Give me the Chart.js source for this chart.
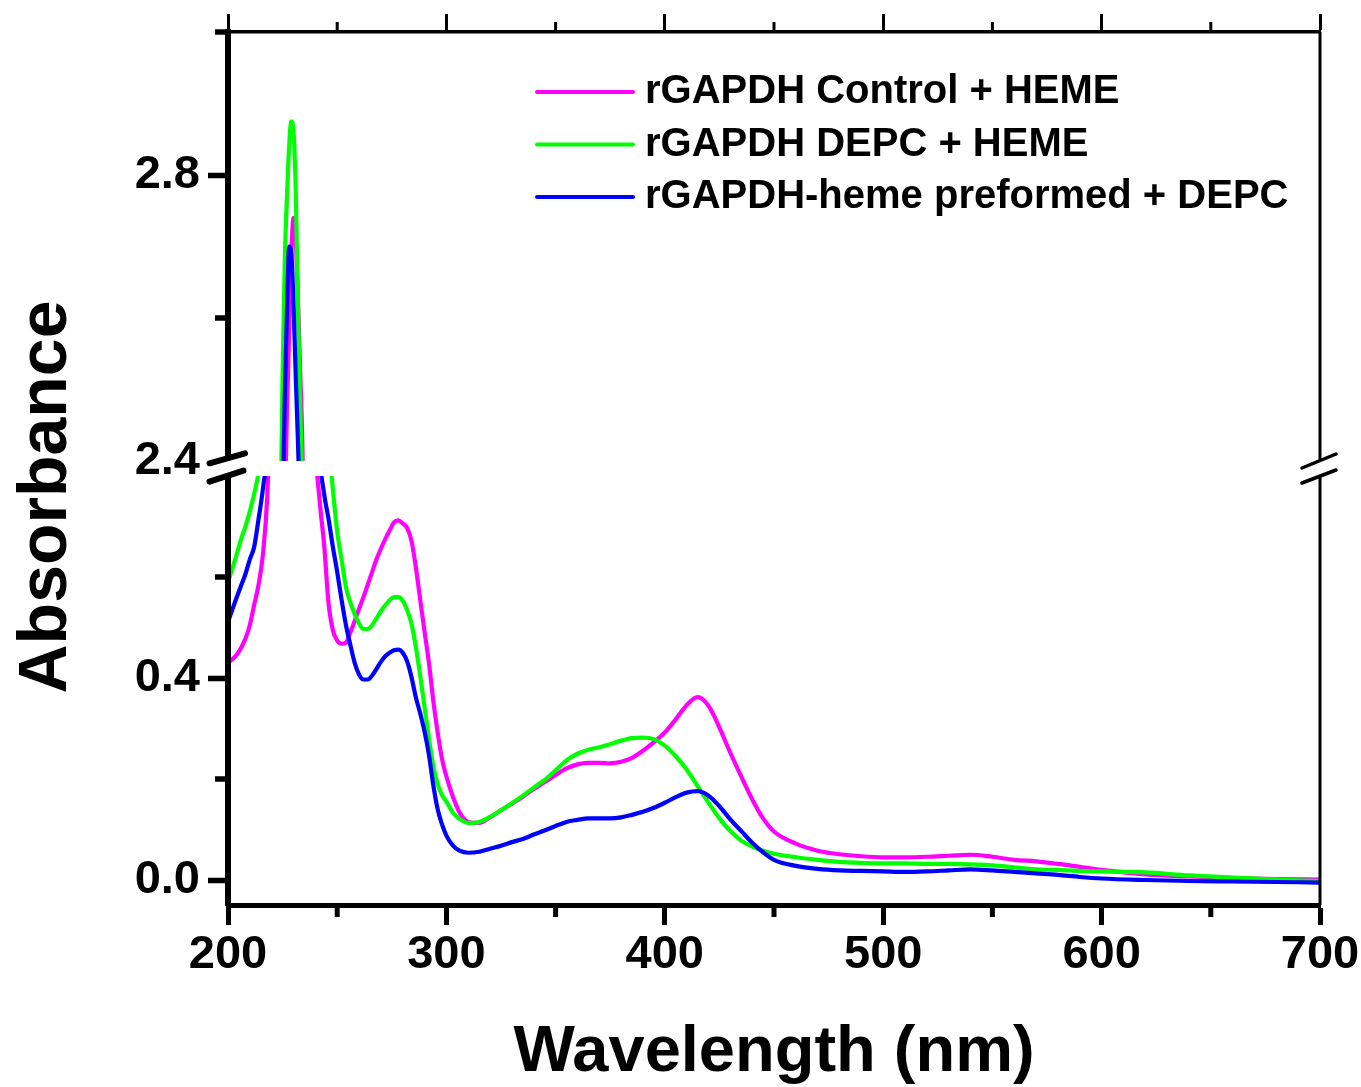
<!DOCTYPE html>
<html>
<head>
<meta charset="utf-8">
<script src="https://cdn.jsdelivr.net/npm/chart.js@4.4.1/dist/chart.umd.min.js"></script>
<style>
html,body{margin:0;padding:0;background:#ffffff;}
#wrap{width:1361px;height:1087px;position:relative;}
canvas{display:block;}
</style>
</head>
<body>
<div id="wrap"><canvas id="c" width="1361" height="1087"></canvas></div>
<script>
// ---------------- data ----------------
const wavelengths = [200,202,204,206,208,210,212,214,216,218,220,
  221,222,223,224,225,226,227,228,229,230,231,232,233,234,235,236,237,238,239,240,
  242,244,246,248,250,252,254,256,258,260,262,264,266,268,270,272,274,276,278,280,282,284,286,288,290,292,294,296,298,300,
  303,306,
  310,315,320,325,330,335,340,345,350,355,360,365,370,375,380,385,390,395,400,405,410,415,420,425,430,435,440,445,450,
  460,470,480,490,500,510,520,530,540,550,560,570,580,590,600,
  620,640,660,680,700];

const controlHeme = [0.430,0.437,0.446,0.460,0.478,0.505,0.545,0.585,0.645,0.760,1.000,
  1.15,1.35,1.60,1.90,2.15,2.33,2.47,2.58,2.69,2.74,2.71,2.63,2.53,2.43,2.25,2.00,1.70,1.38,1.10,0.88,
  0.750,0.665,0.550,0.495,0.474,0.468,0.470,0.490,0.513,0.537,0.560,0.585,0.610,0.635,0.656,0.675,0.692,0.708,0.712,0.706,0.697,0.672,0.620,0.555,0.492,0.430,0.355,0.292,0.240,0.205,
  0.165,0.134,
  0.115,0.113,0.124,0.138,0.151,0.165,0.180,0.194,0.208,0.221,0.229,0.232,0.232,0.231,0.234,0.242,0.256,0.273,0.292,0.318,0.346,0.362,0.345,0.302,0.252,0.205,0.160,0.122,0.096,
  0.072,0.058,0.051,0.047,0.045,0.045,0.046,0.048,0.050,0.046,0.040,0.037,0.032,0.026,0.020,
  0.011,0.007,0.004,0.002,0.001];

const depcHeme = [0.590,0.617,0.645,0.675,0.700,0.730,0.765,0.810,0.920,1.080,1.300,
  1.45,1.65,1.95,2.30,2.52,2.68,2.77,2.84,2.875,2.86,2.78,2.62,2.48,2.37,2.20,2.00,1.78,1.58,1.40,1.25,
  1.05,0.93,0.87,0.775,0.690,0.635,0.580,0.550,0.527,0.508,0.497,0.497,0.505,0.518,0.532,0.544,0.554,0.560,0.560,0.553,0.535,0.508,0.462,0.405,0.342,0.280,0.226,0.190,0.168,0.155,
  0.133,0.121,
  0.113,0.115,0.125,0.138,0.152,0.167,0.183,0.198,0.217,0.237,0.250,0.258,0.263,0.269,0.276,0.281,0.282,0.279,0.266,0.245,0.219,0.186,0.153,0.122,0.097,0.078,0.066,0.058,0.052,
  0.045,0.040,0.036,0.034,0.033,0.033,0.032,0.032,0.031,0.029,0.025,0.021,0.020,0.018,0.017,
  0.015,0.009,0.005,0.001,-0.002];

const preformedDepc = [0.511,0.536,0.560,0.583,0.606,0.635,0.660,0.715,0.775,0.860,1.100,
  1.30,1.50,1.78,2.10,2.33,2.49,2.61,2.70,2.69,2.62,2.52,2.43,2.32,2.15,1.95,1.75,1.55,1.35,1.18,1.05,
  0.840,0.765,0.716,0.660,0.610,0.555,0.505,0.466,0.430,0.407,0.397,0.397,0.405,0.418,0.432,0.443,0.450,0.455,0.456,0.450,0.433,0.402,0.362,0.330,0.294,0.248,0.188,0.140,0.110,0.088,
  0.068,0.058,
  0.054,0.056,0.062,0.068,0.075,0.081,0.090,0.098,0.107,0.115,0.119,0.122,0.122,0.122,0.124,0.129,0.135,0.143,0.153,0.164,0.173,0.176,0.167,0.146,0.120,0.097,0.074,0.055,0.040,
  0.028,0.022,0.019,0.018,0.017,0.016,0.017,0.019,0.021,0.019,0.016,0.013,0.010,0.006,0.003,
  0.000,-0.002,-0.003,-0.004,-0.005];

const seriesLabels = ['rGAPDH Control + HEME', 'rGAPDH DEPC + HEME', 'rGAPDH-heme preformed + DEPC'];
const seriesColors = ['#ff00ff', '#00ff00', '#0000ff'];

const xTicks = [200, 300, 400, 500, 600, 700];
const xMinorTicks = [250, 350, 450, 550, 650];
const yLowTicks = [0.0, 0.4];
const yLowMinorTicks = [0.2, 0.6];
const yHighTicks = [2.4, 2.8];
const yHighMinorTicks = [2.6, 3.0];
const xTitle = 'Wavelength (nm)';
const yTitle = 'Absorbance';

// axis ranges (broken y axis)
const LOW_MIN = -0.0495, LOW_MAX = 0.8297, LOW_CLIP = 0.8;
const HIGH_MIN = 2.4, HIGH_MAX = 3.0;

// ---------------- build ----------------
const FONT = '"Liberation Sans", Arial, Helvetica, sans-serif';
const seriesValues = [controlHeme, depcHeme, preformedDepc];
const drawOrder = [2, 1, 0]; // blue on top, magenta at bottom

function toPoints(vals) { return wavelengths.map((w, i) => ({ x: w, y: vals[i] })); }

const datasets = [];
seriesValues.forEach((vals, i) => {
  ['yLow', 'yHigh'].forEach(axisId => {
    datasets.push({
      label: seriesLabels[i],
      data: toPoints(vals),
      yAxisID: axisId,
      xAxisID: 'x',
      borderColor: seriesColors[i],
      backgroundColor: seriesColors[i],
      borderWidth: 4.2,
      pointRadius: 0,
      fill: false,
      cubicInterpolationMode: 'monotone',
      order: drawOrder[i]
    });
  });
});

const segmentClip = {
  id: 'segmentClip',
  beforeDatasetDraw(chart, args) {
    const ds = chart.data.datasets[args.index];
    const xs = chart.scales.x;
    let top, bottom;
    if (ds.yAxisID === 'yHigh') {
      const s = chart.scales.yHigh;
      top = s.top; bottom = s.getPixelForValue(HIGH_MIN);
    } else {
      const s = chart.scales.yLow;
      top = s.getPixelForValue(LOW_CLIP); bottom = s.bottom;
    }
    const ctx = chart.ctx;
    ctx.save();
    ctx.beginPath();
    ctx.rect(xs.left, top, xs.right - xs.left, bottom - top);
    ctx.clip();
  },
  afterDatasetDraw(chart) { chart.ctx.restore(); }
};

function line(ctx, x1, y1, x2, y2, w, cap) {
  ctx.lineWidth = w; ctx.lineCap = cap || 'butt';
  ctx.beginPath(); ctx.moveTo(x1, y1); ctx.lineTo(x2, y2); ctx.stroke();
}

const decorations = {
  id: 'decorations',
  afterDraw(chart) {
    const ctx = chart.ctx;
    const xs = chart.scales.x, yl = chart.scales.yLow, yh = chart.scales.yHigh;
    const L = chart.chartArea.left, R = chart.chartArea.right, T = chart.chartArea.top, B = chart.chartArea.bottom;
    ctx.save();
    ctx.strokeStyle = '#000';
    // right frame line
    line(ctx, R, T, R, B, 3);
    // minor ticks
    xMinorTicks.forEach(v => {
      const px = xs.getPixelForValue(v);
      line(ctx, px, B, px, B + 12, 5);
      line(ctx, px, T, px, T - 10, 3);
    });
    yLowMinorTicks.forEach(v => { const py = yl.getPixelForValue(v); line(ctx, L - 13, py, L, py, 5.5); });
    yHighMinorTicks.forEach(v => { const py = yh.getPixelForValue(v); line(ctx, L - 13, py, L, py, 5.5); });

    // axis breaks
    const yb = yh.getPixelForValue(HIGH_MIN);
    ctx.fillStyle = '#fff';
    ctx.fillRect(L - 5, yb - 2, 10, 16);
    ctx.fillRect(R - 4, yb, 8, 15);
    ctx.strokeStyle = '#000';
    line(ctx, L - 18.5, yb + 2.3, L + 17, yb - 7.7, 6, 'round');
    line(ctx, L - 18.5, yb + 20.7, L + 15.5, yb + 9.7, 6, 'round');
    line(ctx, R - 18, yb + 7, R + 16, yb - 7, 3.5, 'round');
    line(ctx, R - 18, yb + 22, R + 16, yb + 9, 3.5, 'round');

    // y title
    ctx.fillStyle = '#000';
    ctx.font = 'bold 68px ' + FONT;
    ctx.save();
    ctx.translate(66, 497);
    ctx.rotate(-Math.PI / 2);
    ctx.textAlign = 'center';
    ctx.textBaseline = 'alphabetic';
    ctx.fillText(yTitle, 0, 0);
    ctx.restore();

    // legend
    const rows = [92, 144.5, 197];
    ctx.font = 'bold 40px ' + FONT;
    ctx.textAlign = 'left';
    ctx.textBaseline = 'middle';
    seriesLabels.forEach((lab, i) => {
      ctx.strokeStyle = seriesColors[i];
      line(ctx, 537, rows[i], 633, rows[i], 4, 'round');
      ctx.fillStyle = '#000';
      ctx.fillText(lab, 645, rows[i]);
    });
    ctx.restore();
  }
};

const tickFont = { family: FONT, size: 47, weight: 'bold' };
const hideTickAt = v => (ctx) => (ctx.tick && Math.abs(ctx.tick.value - v) < 1e-9) ? 'rgba(0,0,0,0)' : '#000';
const noPad = s => { s.paddingTop = 0; s.paddingBottom = 0; };

new Chart(document.getElementById('c'), {
  type: 'line',
  data: { datasets },
  options: {
    responsive: false,
    animation: false,
    devicePixelRatio: 1,
    layout: { padding: { left: 0, top: 0, right: 41, bottom: 0 } },
    plugins: { legend: { display: false }, tooltip: { enabled: false }, title: { display: false } },
    scales: {
      x: {
        type: 'linear', position: 'bottom', min: 200, max: 700,
        afterBuildTicks: s => { s.ticks = xTicks.map(v => ({ value: v })); },
        afterFit: s => { s.height = 182; s.paddingLeft = 0; s.paddingRight = 0; },
        grid: { display: true, drawOnChartArea: false, drawTicks: true, tickLength: 20, tickWidth: 5, tickColor: '#000', z: 1 },
        border: { display: true, color: '#000', width: 5, z: 1 },
        ticks: { color: '#000', font: tickFont, padding: 2, maxRotation: 0, autoSkip: false, callback: v => String(v) },
        title: { display: true, text: xTitle, color: '#000', font: { family: FONT, size: 65, weight: 'bold', lineHeight: 1 }, padding: { top: 0, bottom: 1 } }
      },
      xTop: {
        type: 'linear', position: 'top', min: 200, max: 700,
        afterBuildTicks: s => { s.ticks = xTicks.map(v => ({ value: v })); },
        afterFit: s => { s.height = 32; s.paddingLeft = 0; s.paddingRight = 0; },
        grid: { display: true, drawOnChartArea: false, drawTicks: true, tickLength: 18, tickWidth: 3, tickColor: '#000', z: 1 },
        border: { display: true, color: '#000', width: 3.5, z: 1 },
        ticks: { display: false }
      },
      yLow: {
        type: 'linear', position: 'left', stack: 'absorbance', stackWeight: 444,
        min: LOW_MIN, max: LOW_MAX,
        afterBuildTicks: s => { s.ticks = yLowTicks.map(v => ({ value: v })); },
        afterFit: s => { s.width = 228; noPad(s); },
        grid: { display: true, drawOnChartArea: false, drawTicks: true, tickLength: 20, tickWidth: 5.5, tickColor: '#000', z: 1 },
        border: { display: true, color: '#000', width: 6, z: 1 },
        ticks: { color: '#000', font: tickFont, padding: 8, callback: v => Number(v).toFixed(1) }
      },
      yHigh: {
        type: 'linear', position: 'left', stack: 'absorbance', stackWeight: 429,
        min: HIGH_MIN, max: HIGH_MAX,
        afterBuildTicks: s => { s.ticks = yHighTicks.map(v => ({ value: v })); },
        afterFit: s => { s.width = 228; noPad(s); },
        grid: { display: true, drawOnChartArea: false, drawTicks: true, tickLength: 20, tickWidth: 5.5, tickColor: hideTickAt(HIGH_MIN), z: 1 },
        border: { display: true, color: '#000', width: 6, z: 1 },
        ticks: { color: '#000', font: tickFont, padding: 8, callback: v => Number(v).toFixed(1) }
      }
    }
  },
  plugins: [segmentClip, decorations]
});
</script>
</body>
</html>
